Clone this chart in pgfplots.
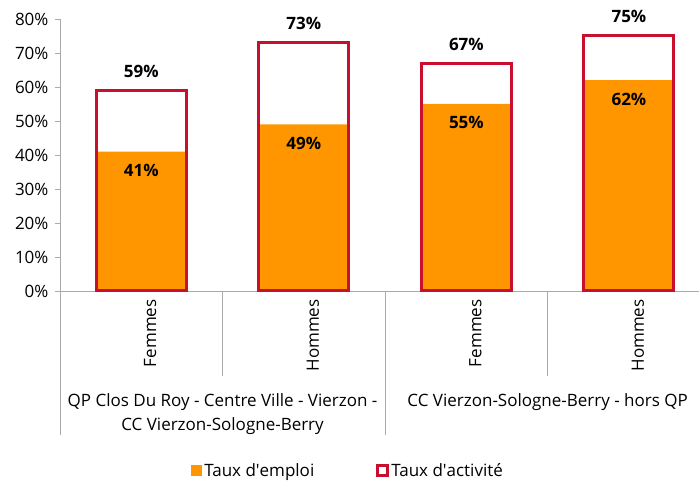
\documentclass[border=0pt]{standalone}
\usepackage{fontspec}
\setmainfont{Open Sans}
\usepackage{pgfplots}
\pgfplotsset{compat=1.18}
\definecolor{emploi}{RGB}{255,150,0}
\definecolor{activ}{RGB}{200,16,46}
\definecolor{axgray}{RGB}{170,170,170}
\begin{document}
\begin{tikzpicture}[font=\fontsize{17}{20}\selectfont]
\begin{axis}[
  at={(0,0)}, anchor=south west,
  scale only axis, width=639pt, height=272pt,
  xmin=-0.5, xmax=3.43, ymin=0, ymax=80,
  axis x line*=bottom, axis y line*=left,
  axis line style={axgray},
  ytick={0,10,...,80},
  yticklabel={\pgfmathprintnumber{\tick}\%},
  y tick label style={xshift=-3pt},
  ytick style={axgray}, tick align=outside, major tick length=5pt,
  xtick={0,1,2,3}, xticklabels={Femmes,Hommes,Femmes,Hommes},
  xtick style={draw=none},
  x tick label style={rotate=90, anchor=east, yshift=-9pt},
  tick label style={font=\fontsize{17}{20}\selectfont},
  /pgf/number format/assume math mode=true,
  clip=false, ybar=0pt, bar width=90pt,
  legend style={at={(0.451,-0.662)}, anchor=center, legend columns=2, draw=none,
    font=\fontsize{17}{20}\selectfont, inner sep=0pt,
    /tikz/every even column/.append style={column sep=60pt}},
]
\addplot[bar shift=0pt, fill=emploi, draw=none,
  nodes near coords={\pgfmathprintnumber{\pgfplotspointmeta}\%},
  nodes near coords style={anchor=north, yshift=-9pt, font=\fontsize{17}{20}\selectfont\bfseries, black},
  legend image code/.code={\fill[emploi] (0pt,-5.5pt) rectangle (11pt,5.5pt);}]
  coordinates {(0,41) (1,49) (2,55) (3,62)};
\addlegendentry{Taux d\textquotesingle emploi}
\addplot[bar shift=0pt, draw=activ, line width=3pt, fill=none,
  nodes near coords={\pgfmathprintnumber{\pgfplotspointmeta}\%},
  nodes near coords style={anchor=south, yshift=8pt, font=\fontsize{17}{20}\selectfont\bfseries, black},
  legend image code/.code={\draw[activ, line width=3pt] (1.5pt,-5pt) rectangle (11.5pt,5pt);}]
  coordinates {(0,59) (1,73) (2,67) (3,75)};
\addlegendentry{Taux d\textquotesingle activité}
\draw[axgray] (axis cs:-0.5,0) -- ++(0pt,-144pt);
\draw[axgray] (axis cs:0.5,0) -- ++(0pt,-85pt);
\draw[axgray] (axis cs:1.5,0) -- ++(0pt,-144pt);
\draw[axgray] (axis cs:2.5,0) -- ++(0pt,-85pt);
\node[align=center, anchor=north, font=\fontsize{17}{24}\selectfont] at ([yshift=-99pt]axis cs:0.5,0)
  {QP Clos Du Roy - Centre Ville - Vierzon -\\CC Vierzon-Sologne-Berry};
\node[align=center, anchor=north, font=\fontsize{17}{24}\selectfont] at ([yshift=-99pt]axis cs:2.5,0)
  {CC Vierzon-Sologne-Berry - hors QP};
\end{axis}
\path[use as bounding box] (-60pt,-189pt) rectangle (639pt,291pt);
\end{tikzpicture}
\end{document}
